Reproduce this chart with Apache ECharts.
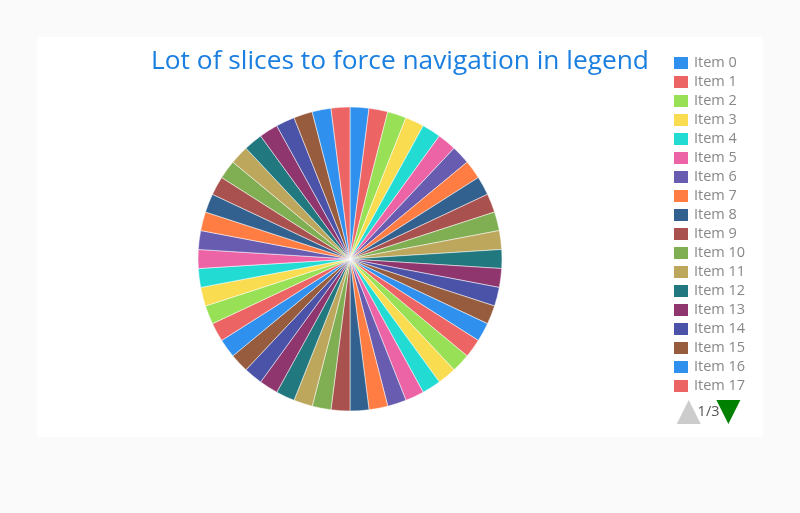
<!DOCTYPE html>
<html>
<head>
<meta charset="utf-8">
<style>
  html, body { margin: 0; padding: 0; background: #fafafa; }
  #chart { width: 800px; height: 513px; }
</style>
<script src="https://cdn.jsdelivr.net/npm/echarts@6/dist/echarts.min.js"></script>
</head>
<body>
<div id="chart"></div>
<script>
// 50 equal slices, palette of 16 colours cycles
const itemNames = [];
for (let i = 0; i < 50; i++) itemNames.push('Item ' + i);
const sliceValues = [
  1, 1, 1, 1, 1, 1, 1, 1, 1, 1,
  1, 1, 1, 1, 1, 1, 1, 1, 1, 1,
  1, 1, 1, 1, 1, 1, 1, 1, 1, 1,
  1, 1, 1, 1, 1, 1, 1, 1, 1, 1,
  1, 1, 1, 1, 1, 1, 1, 1, 1, 1
];
const palette = [
  '#3090ee', '#ec6464', '#98e056', '#f9dc50', '#22dcd4', '#ec64a6',
  '#685cb0', '#ff7c42', '#33618f', '#a8514e', '#80ae52', '#bca75c',
  '#21787e', '#90366f', '#4a53a8', '#975b3d'
];

const chart = echarts.init(document.getElementById('chart'));
chart.setOption({
  backgroundColor: '#fafafa',
  color: palette,
  graphic: [{
    type: 'rect',
    z: -10,
    shape: { x: 37, y: 37, width: 726, height: 400 },
    style: { fill: '#ffffff' }
  }],
  title: {
    text: 'Lot of slices to force navigation in legend',
    left: 'center',
    top: 44,
    textStyle: { color: '#1a7fe0', fontSize: 26.3, fontWeight: 'normal', fontFamily: 'Open Sans' }
  },
  legend: {
    type: 'scroll',
    orient: 'vertical',
    left: 672,
    top: 55,
    height: 369,
    padding: 0,
    icon: 'rect',
    itemWidth: 16,
    itemHeight: 14,
    itemGap: 3,
    textStyle: { color: '#888', fontSize: 14.5, fontFamily: 'Open Sans' },
    pageIconSize: 24,
    pageButtonItemGap: -10,
    pageButtonGap: 6,
    pageIconColor: '#008000',
    pageIconInactiveColor: '#cccccc',
    pageTextStyle: { color: '#555', fontSize: 14.5, fontFamily: 'Open Sans' },
    data: itemNames
  },
  series: [{
    type: 'pie',
    center: [350, 259],
    radius: 152,
    label: { show: false },
    labelLine: { show: false },
    itemStyle: { borderColor: '#fff', borderWidth: 0.5 },
    data: itemNames.map((n, i) => ({ name: n, value: sliceValues[i] }))
  }]
});
</script>
</body>
</html>
